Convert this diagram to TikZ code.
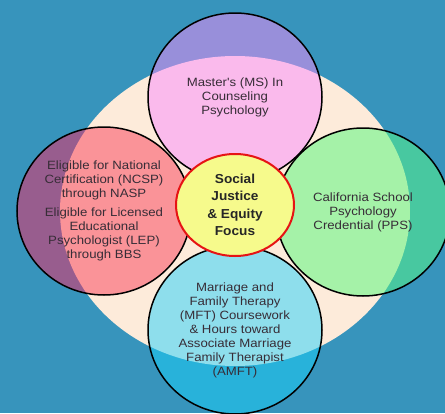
\documentclass[tikz,border=0pt]{standalone}
\usepackage{fontspec}
\usetikzlibrary{shapes.geometric}
\newfontfamily\lblfont[FakeStretch=1.1]{Liberation Sans}
\newfontfamily\ctrfont[FakeStretch=1.05]{Liberation Sans}
\definecolor{bgblue}{RGB}{55,148,188}
\definecolor{cream}{RGB}{253,235,218}
\definecolor{topout}{RGB}{152,143,218}
\definecolor{topin}{RGB}{250,186,236}
\definecolor{leftout}{RGB}{152,93,142}
\definecolor{leftin}{RGB}{250,147,152}
\definecolor{rightout}{RGB}{72,200,160}
\definecolor{rightin}{RGB}{165,242,168}
\definecolor{botout}{RGB}{40,178,218}
\definecolor{botin}{RGB}{142,222,236}
\definecolor{ctryellow}{RGB}{246,250,140}
\definecolor{ctrred}{RGB}{230,20,20}
\definecolor{txt}{RGB}{55,45,55}
\begin{document}
\begin{tikzpicture}[x=1pt,y=-1pt,
  petal/.style={ellipse, draw=black, line width=1.5pt, inner sep=0pt,
    minimum width=174pt, minimum height=168pt, align=center, text=txt,
    font=\lblfont\fontsize{12}{14}\selectfont},
  twotone/.style 2 args={fill=#1, path picture={\fill[#2] (creamc) ellipse [x radius=175pt, y radius=155pt];}},
  hub/.style={ellipse, draw=ctrred, line width=2pt, fill=ctryellow, inner sep=0pt,
    minimum width=118pt, minimum height=102pt, align=center, text=black!85,
    font=\ctrfont\bfseries\fontsize{13}{17.5}\selectfont}]
\useasboundingbox (0,0) rectangle (445,413);
\fill[bgblue] (0,0) rectangle (445,413);
\coordinate (creamc) at (235,211);
\fill[cream] (creamc) ellipse [x radius=175pt, y radius=155pt];
\node[petal, twotone={topout}{topin}] (ms) at (235,97) {Master's (MS) In\\Counseling\\Psychology};
\node[petal, twotone={leftout}{leftin}] (ncsp) at (104,211) {Eligible for National\\Certification (NCSP)\\through NASP\\[5pt]Eligible for Licensed\\Educational\\Psychologist (LEP)\\through BBS};
\node[petal, twotone={rightout}{rightin}] (pps) at (363,212) {California School\\Psychology\\Credential (PPS)};
\node[petal, twotone={botout}{botin}] (mft) at (235,330) {Marriage and\\Family Therapy\\(MFT) Coursework\\\& Hours toward\\Associate Marriage\\Family Therapist\\(AMFT)};
\node[hub] (focus) at (235,205) {Social\\Justice\\\& Equity\\Focus};
\end{tikzpicture}
\end{document}
